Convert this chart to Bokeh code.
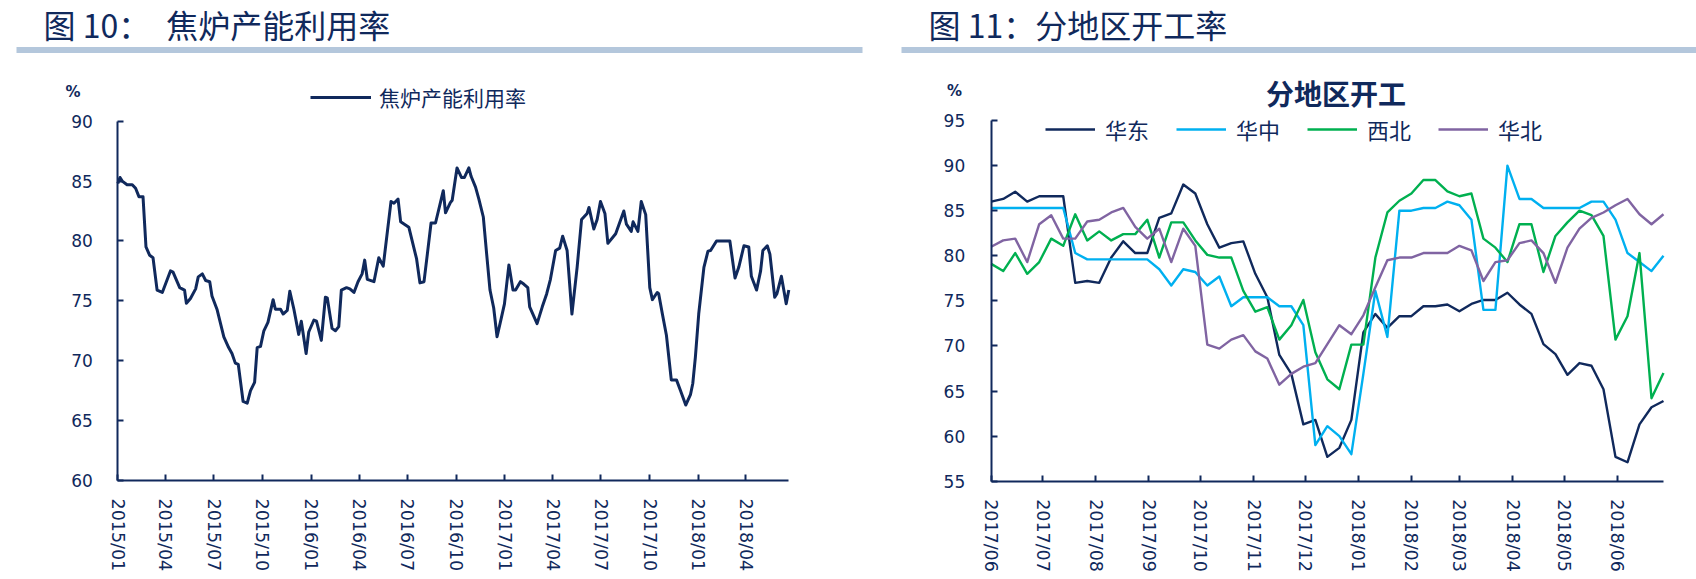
import pandas as pd
from bokeh.plotting import figure
from bokeh.layouts import row
from bokeh.models import (Range1d, FixedTicker, DatetimeTickFormatter, Legend,
                          LegendItem, Label, BoxAnnotation)
from bokeh.embed import file_html
from bokeh.resources import INLINE

# ---------------- data ----------------
TITLE1 = "图 10：\u3000焦炉产能利用率"
TITLE2 = "图 11：分地区开工率"
UNIT = "%"

# Figure 10: coke oven capacity utilisation (weekly, offsets in weeks from start)
coke_start = "2015-01-01"
coke_name = "焦炉产能利用率"
coke_week = [0.0, 0.6, 1.2, 2.5, 3.9, 4.8, 5.7, 6.8, 7.6, 8.6, 9.5, 10.6, 12.0, 13.1,
             14.2, 14.9, 16.0, 16.7, 18.0, 18.5, 19.6, 21.0, 21.7, 22.8, 23.7, 24.8,
             25.4, 26.8, 28.6, 29.9, 30.8, 31.7, 32.5, 33.8, 34.9, 35.8, 36.9, 37.6,
             38.5, 39.4, 40.5, 41.9, 42.5, 43.9, 44.6, 45.7, 46.4, 47.5, 48.8, 49.5,
             50.8, 51.5, 52.9, 53.6, 54.9, 56.0, 56.5, 57.8, 58.7, 59.6, 60.3, 61.7,
             62.6, 63.7, 64.8, 65.9, 66.6, 67.3, 69.1, 70.4, 71.6, 73.7, 74.5, 75.6,
             76.3, 78.5, 80.6, 81.5, 82.6, 83.5, 84.5, 85.7, 87.8, 88.4, 89.7, 90.2,
             91.5, 92.7, 93.5, 94.7, 95.3, 96.5, 97.4, 98.6, 99.5, 100.4, 101.4, 102.3,
             103.4, 104.3, 105.5, 106.6, 107.3, 108.6, 109.5, 110.6, 111.1, 113.1,
             114.5, 115.7, 116.7, 118.1, 119.2, 120.0, 121.2, 122.5, 123.9, 125.1,
             126.6, 127.1, 128.4, 129.3, 130.2, 131.4, 132.2, 134.3, 136.5, 137.2,
             138.5, 139.0, 140.3, 141.2, 142.4, 143.5, 144.2, 145.5, 145.9, 146.9,
             148.0, 149.3, 150.7, 151.8, 153.2, 154.5, 155.1, 155.8, 156.7, 158.1,
             159.2, 159.9, 161.5, 165.1, 166.5, 167.5, 168.9, 170.2, 170.9, 172.3,
             173.4, 174.0, 175.2, 175.9, 177.2, 177.8, 179.0, 180.3, 181.0]
coke_rate = [84.8, 85.3, 85.0, 84.7, 84.7, 84.4, 83.7, 83.7, 79.5, 78.8, 78.6, 75.9, 75.7, 76.6,
             77.5, 77.4, 76.6, 76.1, 75.9, 74.8, 75.2, 76.0, 77.0, 77.25, 76.7, 76.6,
             75.4, 74.25, 72.0, 71.1, 70.6, 69.8, 69.7, 66.6, 66.45, 67.5, 68.2, 71.1,
             71.2, 72.5, 73.2, 75.1, 74.3, 74.3, 73.9, 74.2, 75.8, 74.3, 72.2, 73.3,
             70.6, 72.4, 73.4, 73.3, 71.7, 75.3, 75.25, 72.7, 72.5, 72.85, 75.9, 76.1,
             76.0, 75.7, 76.6, 77.25, 78.4, 76.8, 76.6, 78.6, 77.9, 83.3, 83.15, 83.5,
             81.6, 81.15, 78.5, 76.5, 76.6, 78.9, 81.5, 81.5, 84.2, 82.35, 83.2, 83.4,
             86.1, 85.3, 85.3, 86.1, 85.4, 84.5, 83.5, 82.0, 78.9, 75.9, 74.4, 72.0,
             73.5, 74.75, 78.0, 75.9, 75.9, 76.6, 76.4, 76.1, 74.5, 73.1,
             74.5, 75.6, 76.8, 79.2, 79.4, 80.4, 79.2, 73.9, 77.8, 81.8,
             82.3, 82.8, 81.0, 81.8, 83.3, 82.3, 79.8, 80.6, 82.5, 81.4,
             80.8, 81.6, 80.8, 83.3, 82.2, 76.1, 75.1, 75.7, 75.6, 73.9,
             72.1, 68.4, 68.4, 67.5, 66.3, 67.2, 68.1, 70.3, 73.9, 77.8,
             79.15, 79.2, 80.0, 80.0, 76.9, 77.8, 79.6, 79.5, 77.05, 75.9,
             77.5, 79.2, 79.6, 78.9, 75.3, 75.6, 77.05, 74.75, 75.9]
coke_ticks = ["2015/01", "2015/04", "2015/07", "2015/10", "2016/01", "2016/04", "2016/07",
              "2016/10", "2017/01", "2017/04", "2017/07", "2017/10", "2018/01", "2018/04"]
coke_y_ticks = [60, 65, 70, 75, 80, 85, 90]

# Figure 11: operating rate by region (weekly from start)
region_start = "2017-06-01"
region_title = "分地区开工"
region_names = ["华东", "华中", "西北", "华北"]
east = [86.0, 86.3, 87.1, 86.0, 86.6, 86.6, 86.6, 77.0, 77.2, 77.0,
        79.8, 81.6, 80.3, 80.3, 84.2, 84.7, 87.9, 86.9, 83.5, 80.9,
        81.4, 81.6, 78.0, 75.4, 69.0, 66.9, 61.3, 61.8, 57.7, 58.7,
        61.8, 71.5, 73.55, 72.0, 73.3, 73.3, 74.4, 74.4, 74.6, 73.85,
        74.66, 75.1, 75.1, 75.9, 74.6, 73.55, 70.2, 69.1, 66.8, 68.1,
        67.8, 65.2, 57.7, 57.1, 61.3, 63.2, 63.9]
central = [85.3, 85.3, 85.3, 85.3, 85.3, 85.3, 85.3, 80.3, 79.6, 79.6,
           79.6, 79.6, 79.6, 79.6, 78.5, 76.7, 78.5, 78.2, 76.7, 77.7,
           74.4, 75.4, 75.4, 75.4, 74.4, 74.4, 72.3, 59.0, 61.1, 60.0,
           58.0, 66.9, 76.1, 71.0, 85.0, 85.0, 85.3, 85.3, 86.0, 85.6,
           84.0, 74.0, 74.0, 90.0, 86.3, 86.3, 85.3, 85.3, 85.3, 85.3,
           86.0, 86.0, 84.0, 80.3, 79.3, 78.3, 80.0]
northwest = [79.1, 78.3, 80.3, 78.0, 79.3, 81.9, 81.1, 84.6, 81.7, 82.7,
             81.7, 82.4, 82.4, 84.0, 79.8, 83.7, 83.7, 81.7, 80.1, 79.8,
             79.8, 76.1, 73.8, 74.3, 70.7, 72.3, 75.1, 69.3, 66.3, 65.2,
             70.15, 70.15, 79.8, 84.8, 86.1, 86.9, 88.4, 88.4, 87.15, 86.6,
             86.9, 81.9, 80.9, 79.3, 83.5, 83.5, 78.2, 82.2, 83.7, 85.0,
             84.5, 82.2, 70.7, 73.3, 80.3, 64.2, 67.0]
north = [81.0, 81.7, 81.9, 79.3, 83.5, 84.5, 81.9, 81.9, 83.8, 84.0,
         84.8, 85.3, 83.2, 81.9, 83.0, 79.3, 83.0, 81.1, 70.15, 69.7,
         70.7, 71.2, 69.4, 68.6, 65.7, 66.9, 67.7, 68.1, 70.2, 72.3,
         71.3, 73.4, 76.5, 79.5, 79.8, 79.8, 80.3, 80.3, 80.3, 81.1,
         80.6, 77.2, 79.3, 79.5, 81.4, 81.7, 80.3, 77.0, 80.9, 83.0,
         84.2, 84.8, 85.6, 86.3, 84.6, 83.5, 84.6]
region_ticks = ["2017/06", "2017/07", "2017/08", "2017/09", "2017/10", "2017/11", "2017/12",
                "2018/01", "2018/02", "2018/03", "2018/04", "2018/05", "2018/06"]
region_y_ticks = [55, 60, 65, 70, 75, 80, 85, 90, 95]

# ---------------- style / layout (pixels) ----------------
NAVY = "#10295c"
BAR = "#b4c7dc"
REGION_COLORS = ["#10295c", "#00b0f0", "#00b050", "#8064a2"]
CJK = "Noto Sans CJK SC"
LATIN = "DejaVu Sans"
FIG_H = 579


def to_ms(ts):
    return float((pd.Timestamp(ts) - pd.Timestamp("1970-01-01")) // pd.Timedelta("1ms"))


def tick_ms(labels):
    return [to_ms(pd.to_datetime(s, format="%Y/%m")) for s in labels]


def sy(page_y):
    """screen units measured up from the frame bottom (frame = whole figure)"""
    return FIG_H - page_y


def chart(width, dates, y_ticks, x_ticks, ax_left, ax_right, ax_top, ax_bottom, y_standoff):
    """Frame covers the whole figure; axes are pinned and bounded to the data area."""
    t0, t1 = to_ms(dates[0]), to_ms(dates[-1])
    ms_px = (t1 - t0) / (ax_right - ax_left)
    x_range = Range1d(t0 - ax_left * ms_px, t1 + (width - ax_right) * ms_px)
    y0, y1 = y_ticks[0], y_ticks[-1]
    u_px = (y1 - y0) / (ax_bottom - ax_top)
    y_range = Range1d(y0 - (FIG_H - ax_bottom) * u_px, y1 + ax_top * u_px)
    p = figure(width=width, height=FIG_H, x_axis_type="datetime",
               x_range=x_range, y_range=y_range, output_backend="svg",
               toolbar_location=None, min_border=0)
    p.grid.visible = False
    p.outline_line_color = None
    for ax in (p.xaxis[0], p.yaxis[0]):
        ax.axis_line_color = NAVY
        ax.axis_line_width = 2
        ax.major_tick_line_color = NAVY
        ax.major_tick_line_width = 2
        ax.major_tick_in = 6
        ax.major_tick_out = 0
        ax.minor_tick_line_color = None
        ax.major_label_text_color = NAVY
        ax.major_label_text_font = LATIN
        ax.major_label_text_font_size = "17px"
    ya = p.yaxis[0]
    ya.ticker = FixedTicker(ticks=y_ticks)
    ya.bounds = (y0, y1)
    ya.fixed_location = t0
    ya.major_label_standoff = y_standoff
    xa = p.xaxis[0]
    xa.ticker = FixedTicker(ticks=tick_ms(x_ticks))
    xa.bounds = (t0, t1)
    xa.fixed_location = y0
    xa.formatter = DatetimeTickFormatter(days="%Y/%m", months="%Y/%m", years="%Y/%m",
                                         context=None)
    xa.major_label_orientation = "vertical"
    xa.major_label_standoff = 18
    xa.major_label_text_font_size = "17.5px"
    return p


def decorate(p, title, title_x, bar_left, bar_right, unit_x, unit_y):
    # heading bar + heading text (screen px from the frame's bottom-left)
    p.add_layout(BoxAnnotation(left=bar_left, right=bar_right, bottom=sy(52.5), top=sy(46.5),
                               left_units="screen", right_units="screen",
                               top_units="screen", bottom_units="screen",
                               fill_color=BAR, fill_alpha=1.0, line_color=None))
    p.add_layout(Label(x=title_x, y=sy(23), x_units="screen", y_units="screen",
                       text=title, text_align="left", text_baseline="middle",
                       text_font=CJK, text_font_size="32px", text_color=NAVY))
    p.add_layout(Label(x=unit_x, y=sy(unit_y), x_units="screen", y_units="screen", text=UNIT,
                       text_align="center", text_baseline="middle", text_font=LATIN,
                       text_font_style="bold", text_font_size="15px", text_color=NAVY))


# ---------------- Figure 10 ----------------
coke_dates = pd.Timestamp(coke_start) + pd.to_timedelta([w * 7 for w in coke_week], unit="D")
p1 = chart(870, coke_dates, coke_y_ticks, coke_ticks, 117.3, 788.3, 120.7, 480, 25)
r1 = p1.line(coke_dates, coke_rate, line_color=NAVY, line_width=3, line_join="round")
leg1 = Legend(items=[LegendItem(label=coke_name, renderers=[r1])],
              location=(310, sy(99.5) - 12), orientation="horizontal", padding=0, margin=0,
              glyph_width=61, glyph_height=24, label_height=24, label_standoff=8,
              label_text_font=CJK, label_text_font_size="21px", label_text_color=NAVY,
              border_line_color=None, background_fill_alpha=0)
p1.add_layout(leg1)
decorate(p1, TITLE1, 43, 16, 862, 72.5, 91)

# ---------------- Figure 11 ----------------
region_dates = pd.Timestamp(region_start) + pd.to_timedelta([7 * i for i in range(len(east))], unit="D")
p2 = chart(826, region_dates, region_y_ticks, region_ticks, 120.7, 793, 120, 480.7, 26)
renderers = []
for series, color in zip([east, central, northwest, north], REGION_COLORS):
    renderers.append(p2.line(region_dates, series, line_color=color, line_width=2.4,
                             line_join="round"))
leg2 = Legend(items=[LegendItem(label=n, renderers=[r]) for n, r in zip(region_names, renderers)],
              location=(175, sy(133) - 12), orientation="horizontal", padding=0, margin=0,
              spacing=27, glyph_width=50, glyph_height=24, label_height=24, label_width=44,
              label_standoff=10, label_text_font=CJK, label_text_font_size="22px",
              label_text_color=NAVY, border_line_color=None, background_fill_alpha=0)
p2.add_layout(leg2)
decorate(p2, TITLE2, 58, 31, 826, 84, 90)
p2.add_layout(Label(x=465.5, y=sy(92), x_units="screen", y_units="screen", text=region_title,
                    text_align="center", text_baseline="middle", text_font=CJK,
                    text_font_style="bold", text_font_size="28px", text_color=NAVY))

layout = row(p1, p2)
open("out.html", "w").write(file_html(layout, INLINE))
